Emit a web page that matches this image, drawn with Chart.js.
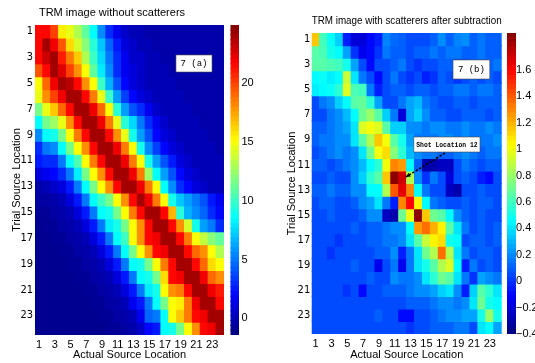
<!DOCTYPE html>
<html>
<head>
<meta charset="utf-8">
<script src="https://cdn.jsdelivr.net/npm/chart.js@4.4.1/dist/chart.umd.min.js"></script>
<style>
  body { margin: 0; background: #fff; width: 535px; height: 363px; overflow: hidden; position: relative; }
  canvas { position: absolute; top: 0; }
</style>
</head>
<body>
<canvas id="heatA" width="228" height="363" style="left:0px"></canvas>
<canvas id="barA" width="46" height="363" style="left:224px"></canvas>
<canvas id="heatB" width="236" height="363" style="left:270px"></canvas>
<canvas id="barB" width="35" height="363" style="left:500px"></canvas>
<script>
'use strict';

const cols = ['1', '2', '3', '4', '5', '6', '7', '8', '9', '10', '11', '12',
  '13', '14', '15', '16', '17', '18', '19', '20', '21', '22', '23', '24'];
const rowTicks = [1, 3, 5, 7, 9, 11, 13, 15, 17, 19, 21, 23];
const barTicksA = [0, 5, 10, 15, 20];
const barTicksB = [-0.4, -0.2, 0, 0.2, 0.4, 0.6, 0.8, 1, 1.2, 1.4, 1.6];
const rangeA = [-1.42, 24.96];
const rangeB = [-0.4, 1.88];

// TRM image without scatterers (rows = trial source, cols = actual source)
const trmA = [
  [21.5, 21.5, 20, 15.5, 14.5, 13, 11, 8.5, 5.5, 3, 1.5, 0.5, 0, 0, -0.3, -0.3, -0.3, -0.3, -0.3, -0.3, -0.3, -0.3, -0.3, -0.3],
  [21.5, 24, 22, 19.5, 16, 14, 12, 9.5, 7, 4.5, 2.5, 1, 0.5, 0, 0, -0.3, -0.3, -0.3, -0.3, -0.3, -0.3, -0.3, -0.3, -0.3],
  [21.5, 23, 24, 21, 18.5, 16.5, 13, 10, 7.5, 5, 3, 1.5, 0.5, 0.5, 0, 0, -0.3, -0.3, -0.3, -0.3, -0.3, -0.3, -0.3, -0.3],
  [19.5, 21.5, 24, 22.5, 20, 18, 15, 11, 8, 5.5, 3, 1.5, 1, 0.5, 0, 0, 0, -0.3, -0.3, -0.3, -0.3, -0.3, -0.3, -0.3],
  [15, 19, 22, 24, 23.5, 21.5, 18, 15, 10, 6.5, 4, 2, 1, 0.5, 0, 0, 0, 0, -0.3, -0.3, -0.3, -0.3, -0.3, -0.3],
  [14.5, 18, 20, 22, 24, 24, 21.5, 18.5, 14.5, 10, 6, 3.5, 2, 1, 0.5, 0, 0, 0, 0, -0.3, -0.3, -0.3, -0.3, -0.3],
  [11.5, 14.5, 16.5, 19, 21.5, 24, 24, 22, 19, 15, 9.5, 6, 4, 3, 1.5, 0.5, 0, 0, 0, 0, -0.3, -0.3, -0.3, -0.3],
  [8.5, 11.5, 12.5, 14.5, 18, 21.5, 24, 24, 22, 18.5, 14.5, 9.5, 7.5, 5, 3, 1.5, 0.5, 0, 0, 0, 0, -0.3, -0.3, -0.3],
  [5.5, 8.5, 9, 11.5, 15, 18.5, 21.5, 24, 24, 21.5, 18, 14.5, 9, 6, 4, 2, 1, 0.5, 0, 0, 0, 0, -0.3, -0.3],
  [3, 5, 5.5, 8.5, 11.5, 15, 18, 21.5, 24, 24, 22, 18.5, 15, 9, 5.5, 3.5, 2, 1, 0.5, 0, 0, 0, 0, -0.3],
  [2.5, 3, 3, 5, 8.5, 10.5, 15, 18.5, 21.5, 24, 24, 22, 18.5, 15, 9, 6, 4, 2.5, 1, 0.5, 0, 0, 0, 0],
  [1, 1.5, 2, 3, 5, 8, 11.5, 15, 18, 21.5, 24, 24, 22, 18.5, 12.5, 8.5, 6, 4, 2, 1, 0.5, 0, 0, 0],
  [-0.3, 0, 0.5, 1, 2.5, 5, 8.5, 11.5, 15, 18, 21.5, 24, 24, 22, 18.5, 15, 8.5, 5.5, 3, 2, 1, 0.5, 0, 0],
  [-0.5, -0.5, -0.3, 0, 1, 2.5, 5, 8.5, 10, 11.5, 15, 18, 21.5, 24, 22, 18.5, 15, 9, 7, 6, 5, 4, 2.5, 1.5],
  [-0.8, -0.8, -0.5, -0.3, 0, 1, 2.5, 5, 8.5, 9, 11.5, 15, 18.5, 21.5, 24, 24, 21.5, 17, 9.5, 6.5, 5.5, 4.5, 3, 2],
  [-1, -0.8, -0.8, -0.5, -0.3, 0, 1, 2.5, 5, 8, 9, 11.5, 15, 18, 21.5, 24, 24, 21.5, 18, 14, 9, 6, 5, 3],
  [-1, -1, -0.8, -0.8, -0.5, -0.3, 0, 1, 2.5, 5, 8.5, 10, 15, 18, 21.5, 22, 24, 24, 21.5, 18.5, 15, 13.5, 12, 11],
  [-1, -1, -1, -0.8, -0.8, -0.5, -0.3, 0, 1, 2.5, 5, 8.5, 11.5, 15, 18, 21.5, 22, 24, 24, 21.5, 19, 18, 15, 13],
  [-1, -1, -1, -1, -0.8, -0.8, -0.5, -0.3, 0, 1, 2.5, 5, 8.5, 9, 11.5, 15, 18.5, 21.5, 24, 24, 21.5, 19, 16, 15],
  [-1, -1, -1, -1, -1, -0.8, -0.8, -0.5, -0.3, 0, 1, 2.5, 5, 8.5, 9, 11.5, 16, 21.5, 22, 24, 24, 22, 19, 18],
  [-1, -1, -1, -1, -1, -1, -0.8, -0.8, -0.5, -0.3, 0, 1, 2.5, 5, 8, 9, 15, 18, 18.5, 21.5, 24, 24, 22, 21],
  [-1, -1, -1, -1, -1, -1, -1, -0.8, -0.8, -0.5, -0.3, 0, 1.5, 2.5, 5, 8.5, 11.5, 15, 15.5, 18.5, 22, 24, 24, 21.5],
  [-1, -1, -1, -1, -1, -1, -1, -1, -0.8, -0.8, -0.5, -0.3, 0, 1.5, 4.5, 5, 8.5, 15, 16.5, 18.5, 21.5, 22, 24, 24],
  [-1, -1, -1, -1, -1, -1, -1, -1, -1, -0.8, -0.8, -0.5, -0.3, 0.5, 2, 2.5, 8.5, 9, 11.5, 15, 18, 21.5, 22, 24],
];

// TRM image with scatterers after subtraction
const trmB = [
  [1.15, 0.6, 0.47, 0.35, -0.05, -0.2, -0.2, -0.1, -0.05, 0.18, 0.12, 0.1, 0.05, 0.05, 0.05, 0.1, 0.2, 0.1, 0.18, 0.2, 0.1, 0.15, 0.1, 0.1],
  [0.65, 0.62, 0.5, 0.45, 0.25, 0, -0.15, -0.1, 0, 0.15, 0.1, 0.1, 0.05, 0.1, 0.1, 0.15, 0.1, 0.15, 0.15, 0.1, 0.1, 0.15, 0.1, 0.1],
  [0.65, 0.65, 0.62, 0.6, 0.5, 0.25, 0.05, -0.1, 0.05, 0.05, 0.1, 0.15, 0.05, 0, 0.05, 0.05, 0.1, 0.1, 0.05, 0.05, 0.1, 0.1, 0.1, 0.15],
  [0.45, 0.47, 0.42, 0.45, 0.9, 0.4, 0.15, 0.05, -0.1, 0.05, 0.15, 0.05, 0, 0.05, -0.05, 0, 0.1, 0.05, 0, 0.05, 0.1, 0.05, 0.1, 0.05],
  [0.42, 0.45, 0.47, 0.55, 0.95, 0.62, 0.6, 0.15, -0.05, 0.05, 0.1, 0.1, 0.05, 0.1, 0.1, 0.05, 0.1, 0.1, 0.15, 0.15, 0.1, 0.15, 0.15, 0.1],
  [0.05, 0.15, 0.2, 0.35, 0.45, 0.65, 0.68, 0.55, 0.25, 0.05, 0.05, 0.15, 0.25, 0.3, 0.15, 0.1, 0.05, 0.05, 0.1, 0.1, 0.05, 0.1, 0.1, 0.1],
  [0.05, 0.05, 0.15, 0.2, 0.3, 0.45, 0.7, 0.8, 0.65, 0.35, 0.15, -0.2, 0.25, 0.35, 0.2, 0.1, 0.1, 0.05, 0.05, 0.1, 0.1, 0.1, 0.05, 0.1],
  [0.1, 0.1, 0.15, 0.2, 0.25, 0.4, 0.95, 1, 0.95, 0.65, 0.35, 0.35, 0.2, 0.2, 0.15, 0.2, 0.2, 0.15, 0.15, 0.2, 0.15, 0.15, 0.2, 0.15],
  [0.1, 0.15, 0.15, 0.2, 0.2, 0.4, 0.65, 0.85, 1.15, 1, 0.65, 0.5, 0.25, 0.15, 0.15, 0.15, 0.2, 0.2, 0.15, 0.2, 0.15, 0.15, 0.15, 0.2],
  [0.05, 0.1, 0.15, 0.2, 0.15, 0.2, 0.4, 0.7, 1, 1.1, 0.75, 0.55, 0.3, 0.2, 0.15, 0.15, 0.1, 0.1, 0.15, 0.2, 0.15, 0.1, 0.15, 0.15],
  [0.1, 0.1, 0.05, 0.1, 0.15, 0.2, 0.3, 0.45, 0.55, 1, 1.3, 1.25, 0.45, 0.1, -0.3, -0.3, -0.25, -0.25, 0.05, 0.15, 0.1, 0.05, 0.1, 0.1],
  [0.05, 0.05, 0.1, 0.05, 0.05, 0.2, 0.35, 0.55, 0.65, 1.15, 1.85, 1.7, 0.85, 0.2, 0, 0.15, 0.05, -0.2, 0.05, 0.1, 0.05, -0.05, -0.1, 0.05],
  [0.1, 0.1, 0.15, 0.1, 0.1, 0.2, 0.2, 0.45, 0.45, 0.85, 1.4, 1.65, 1.3, 0.45, 0.15, 0.05, 0.05, -0.25, -0.3, 0.05, 0.05, 0.1, 0.05, 0.05],
  [0.05, 0.1, 0.1, 0.05, 0.05, 0.1, 0.2, 0.25, 0.4, 0.15, -0.05, 1.3, 1.6, 1.05, 0.45, 0.15, 0.1, 0.05, 0.05, 0.1, 0.05, 0.1, 0.1, 0.05],
  [0.05, 0.05, 0.1, 0.05, 0.05, 0.05, 0.1, 0.2, 0.2, -0.25, -0.3, 0.7, 1, 1.85, 1.15, 0.7, 0.65, 0.45, 0.2, 0.1, 0.05, 0.1, 0.05, 0.05],
  [0.05, 0.05, 0.05, 0.05, 0.05, 0.1, 0.05, 0.1, 0.1, 0.15, 0.2, 0.2, 0.45, 1.25, 1.35, 1.2, 1.05, 0.65, 0.4, 0.15, 0.05, 0.1, 0.05, 0.1],
  [0.05, 0.05, 0.05, 0, 0.05, 0.05, 0.05, 0.1, 0.1, 0.15, 0.15, 0.2, 0.4, 0.65, 0.9, 1.05, 1.1, 0.5, 0.45, 0.05, 0.1, 0.1, 0.05, 0.1],
  [0.05, 0.05, 0, 0.05, 0.05, 0.05, 0.05, 0.05, 0.1, 0.1, 0.2, -0.05, 0.15, 0.4, 0.7, 0.85, 1.35, 0.85, 0.4, 0.15, 0.05, 0.1, 0.1, 0.05],
  [0.05, 0.05, 0.05, 0.05, 0.05, 0.1, 0.05, 0.05, -0.15, 0.05, 0.15, -0.15, 0.15, 0.4, 0.5, 0.65, 0.85, 0.95, 0.45, -0.05, 0.15, 0.05, 0.1, 0.05],
  [0.05, 0.05, 0.05, 0.05, 0.05, 0.05, 0.05, 0.1, 0.05, 0.05, 0.2, 0.15, 0.15, 0.2, 0.4, 0.55, 0.7, 0.65, 0.4, 0.15, 0, 0.25, 0.2, 0.15],
  [0.05, 0.05, 0.05, 0.05, 0, 0.05, -0.1, 0.05, 0.05, 0.1, 0.1, 0.1, 0.15, 0.2, 0.2, 0.25, 0.35, 0.4, 0.2, -0.05, 0.35, 0.65, 0.55, 0.4],
  [0.05, 0.05, 0.05, 0.05, 0.05, 0.05, 0.05, 0.05, 0.05, 0.05, 0.05, 0.05, 0.1, 0.1, 0.1, 0.15, 0.2, 0.2, 0.15, 0.2, 0.4, 0.7, 0.5, 0.45],
  [0.05, 0.05, 0.05, 0.05, 0.05, 0.05, 0.05, 0.05, 0.1, 0.05, 0.05, -0.1, -0.1, 0.05, 0.05, 0.1, 0.15, 0.2, 0.2, 0.25, 0.25, 0.5, 0.8, 0.5],
  [0.05, 0.05, 0.05, 0.05, 0.05, 0.05, 0.05, 0.05, 0.05, 0.05, 0.05, 0.05, 0, 0.05, 0.05, 0.1, 0.1, 0.1, 0.15, 0.15, 0.05, 0.4, 0.45, 0.25],
];

const sans = "'Liberation Sans', Arial, sans-serif";
const narrow = "'Liberation Sans Narrow', 'DejaVu Sans Condensed', 'Liberation Sans', sans-serif";
const mono = "'Liberation Mono', 'Courier New', monospace";

// matlab jet colormap
function jet(v, range) {
  let t = (v - range[0]) / (range[1] - range[0]);
  t = Math.min(1, Math.max(0, t));
  const c = (k) => Math.round(255 * Math.min(1, Math.max(0, 1.5 - Math.abs(4 * t - k))));
  return 'rgb(' + c(3) + ', ' + c(2) + ', ' + c(1) + ')';
}

function fmtTick(value) {
  return String(Math.round(value * 10) / 10).replace('-', '\u2212');
}

// text boxes and arrow drawn in data units
const notesPlugin = {
  id: 'notes',
  afterDatasetsDraw(chart, args, opts) {
    const { ctx } = chart;
    const x = chart.scales.x;
    const y = chart.scales.y;
    const px = (c) => x.getPixelForValue(c - 1);
    (opts.boxes || []).forEach((b) => {
      const x0 = px(b.c0), x1 = px(b.c1);
      const y0 = y.getPixelForValue(b.r0), y1 = y.getPixelForValue(b.r1);
      ctx.save();
      ctx.fillStyle = '#fff';
      ctx.fillRect(x0, y0, x1 - x0, y1 - y0);
      ctx.strokeStyle = '#444';
      ctx.lineWidth = 0.6;
      ctx.strokeRect(x0, y0, x1 - x0, y1 - y0);
      ctx.fillStyle = '#000';
      ctx.font = b.font;
      ctx.textAlign = 'center';
      ctx.textBaseline = 'middle';
      ctx.fillText(b.text, (x0 + x1) / 2, (y0 + y1) / 2 + 0.5);
      ctx.restore();
    });
    (opts.arrows || []).forEach((a) => {
      const x0 = px(a.c0), y0 = y.getPixelForValue(a.r0);
      const x1 = px(a.c1), y1 = y.getPixelForValue(a.r1);
      const ang = Math.atan2(y1 - y0, x1 - x0);
      ctx.save();
      ctx.strokeStyle = '#000';
      ctx.lineWidth = 1.5;
      ctx.setLineDash([2.5, 1.5]);
      ctx.beginPath();
      ctx.moveTo(x0, y0);
      ctx.lineTo(x1, y1);
      ctx.stroke();
      ctx.setLineDash([]);
      ctx.fillStyle = '#000';
      ctx.beginPath();
      ctx.moveTo(x1, y1);
      ctx.lineTo(x1 - 5 * Math.cos(ang - 0.45), y1 - 5 * Math.sin(ang - 0.45));
      ctx.lineTo(x1 - 5 * Math.cos(ang + 0.45), y1 - 5 * Math.sin(ang + 0.45));
      ctx.closePath();
      ctx.fill();
      ctx.restore();
    });
  },
};

function createHeatmap(id, matrix, range, setup) {
  const datasets = matrix.map((row, r) => ({
    data: row.map(() => [r + 0.5, r + 1.5]),
    backgroundColor: row.map((v) => jet(v, range)),
    borderWidth: 0,
    grouped: false,
    barPercentage: 1,
    categoryPercentage: 1,
    inflateAmount: 0.6,
  }));

  const options = {
    responsive: false,
    animation: false,
    devicePixelRatio: 1,
    layout: { padding: { left: 0, right: setup.padRight, top: 0, bottom: 0 } },
    scales: {
      x: {
        type: 'category',
        grid: { display: false, drawTicks: false },
        border: { display: false },
        ticks: {
          autoSkip: false,
          maxRotation: 0,
          padding: 3,
          color: '#000',
          font: { family: sans, size: 11 },
          callback: function (value, index) {
            return rowTicks.includes(index + 1) ? cols[index] : '';
          },
        },
        title: {
          display: true,
          text: 'Actual Source Location',
          color: '#000',
          font: { family: sans, size: 11 },
          padding: { top: 0, bottom: 1 },
        },
        afterFit: (scale) => {
          scale.height = setup.xHeight;
        },
      },
      y: {
        type: 'linear',
        reverse: true,
        min: 0.5,
        max: 24.5,
        grid: { display: false, drawTicks: false },
        border: { display: false },
        afterBuildTicks: (axis) => {
          axis.ticks = rowTicks.map((v) => ({ value: v }));
        },
        ticks: {
          padding: setup.yTickPad,
          color: '#000',
          font: { family: narrow, size: 11 },
        },
        title: {
          display: true,
          text: 'Trial Source Location',
          color: '#000',
          font: { family: sans, size: 11 },
          padding: { top: setup.yTitlePad, bottom: 0 },
        },
        afterFit: (scale) => {
          scale.width = setup.yWidth;
        },
      },
    },
    plugins: {
      legend: { display: false },
      tooltip: { enabled: false },
      title: {
        display: true,
        text: setup.title,
        fullSize: setup.fullSize,
        color: '#000',
        font: { family: sans, size: setup.titleSize, weight: 'normal' },
        padding: setup.titlePad,
      },
      notes: { boxes: setup.boxes, arrows: setup.arrows || [] },
    },
  };

  return new Chart(document.getElementById(id), {
    type: 'bar',
    data: { labels: cols, datasets: datasets },
    options: options,
    plugins: [notesPlugin],
  });
}

function createColorbar(id, range, ticks, setup) {
  const steps = 64;
  const segs = [];
  for (let i = 0; i < steps; i++) {
    const lo = range[0] + ((range[1] - range[0]) * i) / steps;
    const hi = range[0] + ((range[1] - range[0]) * (i + 1)) / steps;
    segs.push({ data: [[lo, hi]], color: jet((lo + hi) / 2, range) });
  }
  const datasets = segs.map((s) => ({
    data: s.data,
    backgroundColor: s.color,
    borderWidth: 0,
    grouped: false,
    barPercentage: 1,
    categoryPercentage: 1,
    inflateAmount: 0.6,
  }));

  return new Chart(document.getElementById(id), {
    type: 'bar',
    data: { labels: [''], datasets: datasets },
    options: {
      responsive: false,
      animation: false,
      devicePixelRatio: 1,
      layout: { padding: setup.padding },
      scales: {
        x: { display: false },
        y: {
          position: 'right',
          min: range[0],
          max: range[1],
          grid: { display: false, drawTicks: false },
          border: { display: false },
          afterBuildTicks: (axis) => {
            axis.ticks = ticks.map((v) => ({ value: v }));
          },
          ticks: {
            padding: setup.tickPad,
            color: '#000',
            font: { family: sans, size: 11 },
            callback: (value) => fmtTick(value),
          },
          afterFit: (scale) => {
            scale.width = setup.yWidth;
          },
        },
      },
      plugins: {
        legend: { display: false },
        tooltip: { enabled: false },
      },
    },
  });
}

createHeatmap('heatA', trmA, rangeA, {
  title: 'TRM image without scatterers',
  titleSize: 11,
  titlePad: { top: 6, bottom: 5.8 },
  fullSize: true,
  padRight: 4,
  xHeight: 28,
  yWidth: 35,
  yTickPad: 2,
  yTitlePad: 10,
  boxes: [{ text: '7 (a)', c0: 18.4, c1: 22.98, r0: 2.82, r1: 4.14, font: '9px ' + mono }],
});

createColorbar('barA', rangeA, barTicksA, {
  padding: { left: 6.5, right: 0, top: 25, bottom: 28 },
  yWidth: 31,
  tickPad: 2.5,
});

createHeatmap('heatB', trmB, rangeB, {
  title: 'TRM image with scatterers after subtraction',
  titleSize: 10,
  titlePad: { top: 15.5, bottom: 5.5 },
  fullSize: false,
  padRight: 4.3,
  xHeight: 29,
  yWidth: 41.7,
  yTickPad: 1.5,
  yTitlePad: 15.5,
  boxes: [
    { text: '7 (b)', c0: 18.35, c1: 23.0, r0: 2.65, r1: 4.17, font: '9px ' + mono },
    { text: 'Shot Location 12', c0: 13.4, c1: 21.76, r0: 8.79, r1: 9.99, font: 'bold 6.4px ' + mono },
  ],
  arrows: [{ c0: 17.34, r0: 10.07, c1: 12.4, r1: 11.98 }],
});

createColorbar('barB', rangeB, barTicksB, {
  padding: { left: 7, right: 0, top: 33, bottom: 29 },
  yWidth: 19,
  tickPad: 0,
});
</script>
</body>
</html>
